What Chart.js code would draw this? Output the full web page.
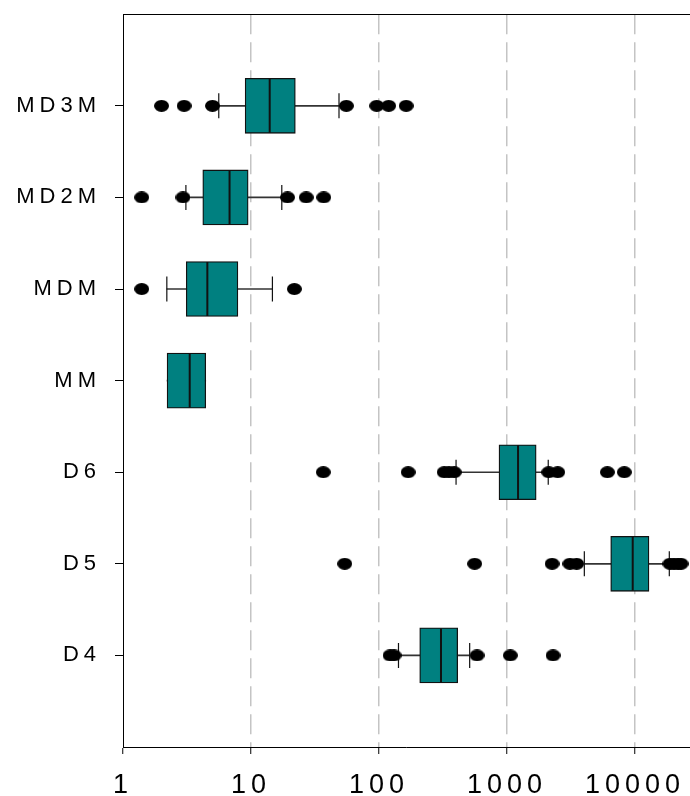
<!DOCTYPE html>
<html>
<head>
<meta charset="utf-8">
<script src="https://cdn.jsdelivr.net/npm/chart.js@4.4.1/dist/chart.umd.min.js"></script>
<style>
  html, body { margin: 0; padding: 0; background: #ffffff; }
  #wrap { width: 690px; height: 796px; position: relative; }
</style>
</head>
<body>
<div id="wrap"><canvas id="c"></canvas></div>
<script>
// ---- data ----
const categories = ['MD3M', 'MD2M', 'MDM', 'MM', 'D6', 'D5', 'D4'];
const q1 = [9.0, 4.2, 3.12, 2.21, 866, 6460, 208];
const median = [14.0, 6.8, 4.56, 3.32, 1220, 9600, 305];
const q3 = [22.2, 9.5, 7.9, 4.43, 1690, 12860, 412];
const whiskerLow = [5.6, 3.1, 2.2, 2.21, 400, 4020, 142];
const whiskerHigh = [48.7, 17.4, 14.7, 4.43, 2100, 18540, 511];
const outliersMD3M = [2.0, 3.0, 5.0, 55.6, 96, 119, 163];
const outliersMD2M = [1.4, 2.94, 19.3, 27.0, 37.0];
const outliersMDM = [1.4, 21.8];
const outliersMM = [];
const outliersD6 = [36.7, 169, 323, 352, 387, 2120, 2490, 6080, 8250];
const outliersD5 = [54, 559, 2250, 3100, 3500, 18770, 20170, 21680, 22880];
const outliersD4 = [122, 131, 583, 1061, 2290];
const outliers = [outliersMD3M, outliersMD2M, outliersMDM, outliersMM, outliersD6, outliersD5, outliersD4];
const xTicks = [1, 10, 100, 1000, 10000];
const xMin = 1, xMax = 26900;

// ---- ellipse marker ----
const dot = document.createElement('canvas');
dot.width = 15; dot.height = 12;
(function () {
  const g = dot.getContext('2d');
  g.fillStyle = '#000';
  g.beginPath();
  g.ellipse(7.5, 6, 7.5, 6, 0, 0, Math.PI * 2);
  g.fill();
})();

const pos = (i) => i + 1;

const whiskerData = categories.map((c, i) => ({ y: pos(i), x: [whiskerLow[i], whiskerHigh[i]] }));
const boxData = categories.map((c, i) => ({ y: pos(i), x: [q1[i], q3[i]] }));
const medianData = categories.map((c, i) => ({ y: pos(i), x: median[i] }));
const capData = [];
categories.forEach((c, i) => {
  if (whiskerLow[i] < q1[i]) capData.push({ y: pos(i), x: whiskerLow[i] });
  if (whiskerHigh[i] > q3[i]) capData.push({ y: pos(i), x: whiskerHigh[i] });
});
const outlierData = [];
categories.forEach((c, i) => outliers[i].forEach(v => outlierData.push({ y: pos(i), x: v })));

const spacing = {
  id: 'spacing',
  beforeLayout(chart) { chart.ctx.letterSpacing = '5px'; },
  beforeDraw(chart) { chart.ctx.letterSpacing = '5px'; }
};

new Chart(document.getElementById('c'), {
  type: 'bar',
  data: {
    datasets: [
      { type: 'scatter', data: outlierData, pointStyle: dot, radius: 7, order: 1 },
      { type: 'scatter', data: capData, pointStyle: 'line', rotation: 90, radius: 12.5,
        borderWidth: 1.2, borderColor: '#111', order: 2 },
      { type: 'scatter', data: medianData, pointStyle: 'line', rotation: 90, radius: 27,
        borderWidth: 2, borderColor: '#111', order: 2 },
      { type: 'bar', data: boxData, barThickness: 55, backgroundColor: '#008080',
        borderColor: '#111', borderWidth: 1.3, borderSkipped: false, grouped: false, order: 3 },
      { type: 'bar', data: whiskerData, barThickness: 1, backgroundColor: '#333',
        borderWidth: 0, grouped: false, order: 4 }
    ]
  },
  options: {
    indexAxis: 'y',
    responsive: true,
    maintainAspectRatio: false,
    animation: false,
    devicePixelRatio: 1,
    events: [],
    layout: { autoPadding: false, padding: { top: 14, right: 0, bottom: 0, left: 0 } },
    plugins: { legend: { display: false }, tooltip: { enabled: false } },
    scales: {
      x: {
        type: 'logarithmic',
        position: 'bottom',
        min: xMin,
        max: xMax,
        afterBuildTicks: (axis) => { axis.ticks = xTicks.map(v => ({ value: v })); },
        afterFit: (axis) => { axis.height = 49; },
        ticks: {
          callback: (v) => String(v),
          color: '#000',
          font: { family: '"Liberation Sans", Arial, sans-serif', size: 27, lineHeight: 2.3 },
          padding: 0,
          maxRotation: 0,
          autoSkip: false
        },
        grid: {
          color: (ctx) => (ctx.tick && ctx.tick.value === 1) ? 'rgba(0,0,0,0)' : '#c4c4c4',
          lineWidth: 1.5,
          tickColor: '#000',
          tickWidth: 1,
          tickLength: 7,
          tickBorderDash: []
        },
        border: { display: true, color: '#000', width: 1, dash: [20, 8] }
      },
      y: {
        type: 'linear',
        reverse: true,
        min: 0,
        max: categories.length + 1,
        offset: false,
        afterBuildTicks: (axis) => {
          axis.ticks = Array.from({ length: categories.length + 2 }, (_, k) => ({ value: k }));
        },
        afterFit: (axis) => { axis.width = 123; },
        ticks: {
          callback: (v) => categories[v - 1] || '',
          color: '#000',
          font: { family: '"Liberation Sans", Arial, sans-serif', size: 22, lineHeight: 0.02 },
          padding: 14,
          autoSkip: false
        },
        grid: {
          offset: false,
          color: (ctx) => (ctx.tick && ctx.tick.value === 0) ? '#000' : 'rgba(0,0,0,0)',
          lineWidth: 1,
          tickColor: (ctx) => (ctx.tick && ctx.tick.value >= 1 && ctx.tick.value <= categories.length) ? '#000' : 'rgba(0,0,0,0)',
          tickLength: 8,
          tickWidth: 1
        },
        border: { display: true, color: '#000', width: 1 }
      }
    }
  },
  plugins: [spacing]
});
</script>
</body>
</html>
